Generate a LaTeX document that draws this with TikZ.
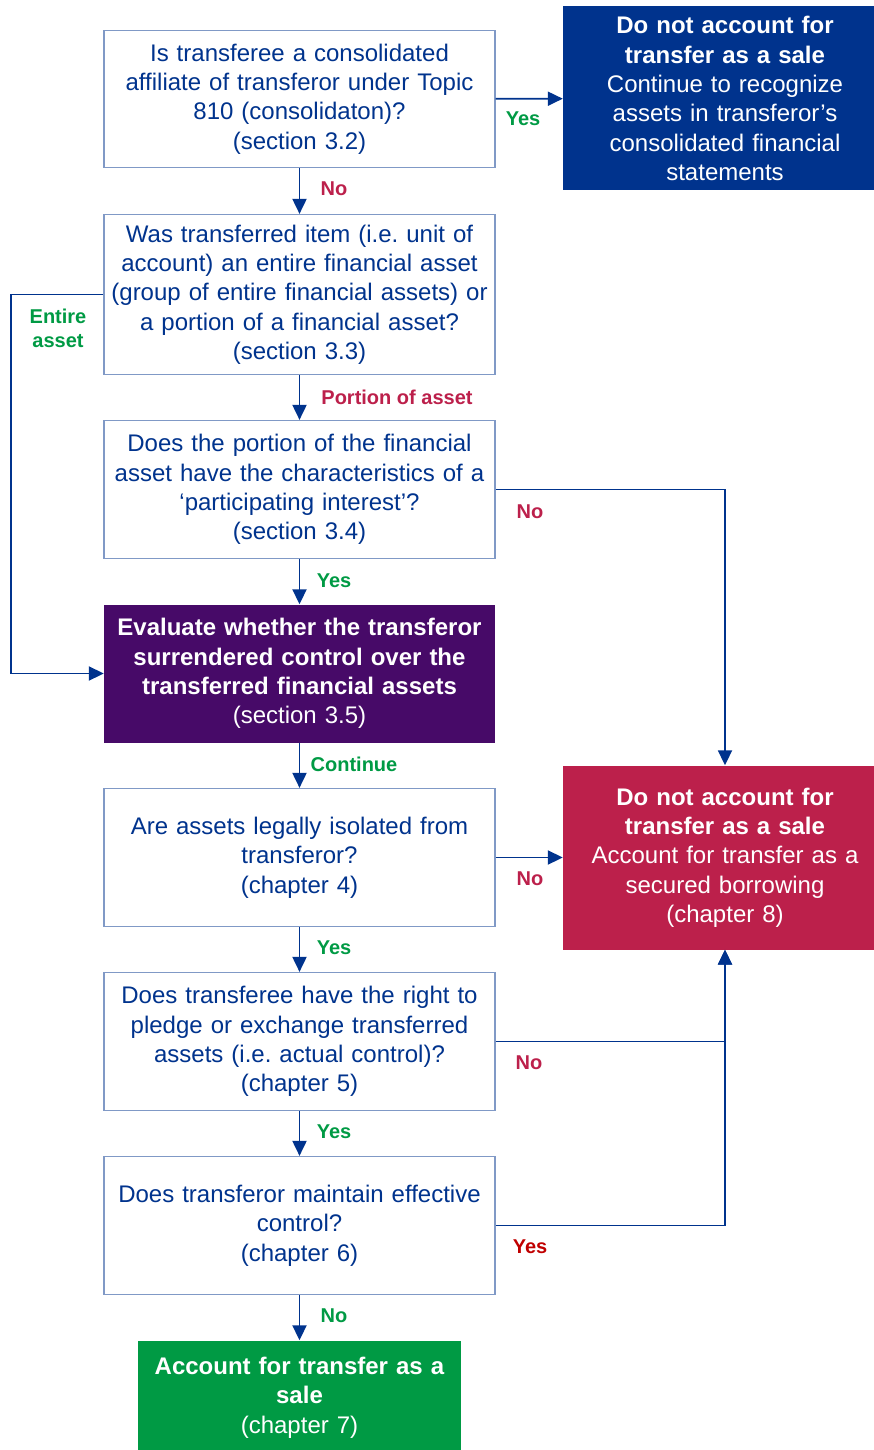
\documentclass[tikz,border=0pt]{standalone}
\usepackage{fontspec}
\setmainfont{Liberation Sans}
\usepackage{tikz}
\usetikzlibrary{arrows.meta}
\definecolor{kpmgblue}{HTML}{00338D}
\definecolor{kpmgpurple}{HTML}{470A68}
\definecolor{kpmgred}{HTML}{BC204B}
\definecolor{kpmggreen}{HTML}{009A44}
\definecolor{darkred}{HTML}{C00000}
\frenchspacing
\begin{document}
\begin{tikzpicture}[
    x=1pt, y=-1pt,
    qbox/.style={rectangle, draw=kpmgblue!50, line width=1.2pt, fill=white, text=kpmgblue, inner sep=0pt, text width=391pt, minimum height=138pt, align=center, font=\fontsize{24}{29.3}\selectfont},
    endbox/.style={rectangle, fill=#1, text=white, inner sep=0pt, align=center, font=\fontsize{24}{29.3}\selectfont},
    arrow/.style={-{Triangle[length=15pt,width=14pt]}, draw=kpmgblue, line width=1.9pt},
    lbl/.style={font=\fontsize{20}{24}\selectfont\bfseries, text=#1, inner sep=0pt, align=center}
]
\useasboundingbox (0,0) rectangle (874,1450);
% question boxes
\node[qbox, minimum height=137pt] (affil) at (299.5,99) {Is transferee a consolidated\\affiliate of transferor under Topic\\810 (consolidaton)?\\(section 3.2)};
\node[qbox, minimum height=160pt] (unit) at (299.5,294.5) {Was transferred item (i.e. unit of\\account) an entire financial asset\\(group of entire financial assets) or\\a portion of a financial asset?\\(section 3.3)};
\node[qbox] (partint) at (299.5,489.5) {Does the portion of the financial\\asset have the characteristics of a\\`participating interest'?\\(section 3.4)};
\node[endbox=kpmgpurple, text width=391pt, minimum height=138pt] (evalctl) at (299.5,673.5) {\textbf{Evaluate whether the transferor}\\\textbf{surrendered control over the}\\\textbf{transferred financial assets}\\(section 3.5)};
\node[qbox] (isol) at (299.5,857.5) {Are assets legally isolated from\\transferor?\\(chapter 4)};
\node[qbox] (pledge) at (299.5,1041.5) {Does transferee have the right to\\pledge or exchange transferred\\assets (i.e. actual control)?\\(chapter 5)};
\node[qbox] (effctl) at (299.5,1225.5) {Does transferor maintain effective\\control?\\(chapter 6)};
% outcome boxes
\node[endbox=kpmgblue, text width=324pt, minimum height=184pt] (consol) at (725,98.5) {\textbf{Do not account for}\\\textbf{transfer as a sale}\\Continue to recognize\\assets in transferor's\\consolidated financial\\statements};
\node[endbox=kpmgred, text width=324pt, minimum height=184pt] (borrow) at (725,857.5) {\textbf{Do not account for}\\\textbf{transfer as a sale}\\Account for transfer as a\\secured borrowing\\(chapter 8)};
\node[endbox=kpmggreen, text width=323pt, minimum height=114pt] (sale) at (299.5,1397.5) {\textbf{Account for transfer as a}\\\textbf{sale}\\(chapter 7)};
% connectors
\draw[arrow] (affil) -- (consol);\draw[arrow] (affil) -- (unit);
\draw[arrow] (unit.west) -- ++(-92,0) |- (evalctl.west);
\draw[arrow] (unit) -- (partint);\draw[arrow] (partint.east) -| (borrow.north);
\draw[arrow] (partint) -- (evalctl);\draw[arrow] (evalctl) -- (isol);
\draw[arrow] (isol) -- (borrow);\draw[arrow] (isol) -- (pledge);
\draw[arrow] (pledge.east) -| (borrow.south);\draw[arrow] (pledge) -- (effctl);
\draw[arrow] (effctl.east) -| (borrow.south);\draw[arrow] (effctl) -- (sale);
% labels
\node[lbl=kpmggreen] (l1) at (523,119) {Yes};\node[lbl=kpmgred] (l2) at (334,189) {No};
\node[lbl=kpmggreen] (l3) at (58,328) {Entire\\asset};\node[lbl=kpmgred] (l4) at (397,397) {Portion of asset};
\node[lbl=kpmgred] (l5) at (530,512) {No};\node[lbl=kpmggreen] (l6) at (334,581) {Yes};
\node[lbl=kpmggreen] (l7) at (354,764) {Continue};\node[lbl=kpmgred] (l8) at (530,879) {No};
\node[lbl=kpmggreen] (l9) at (334,948) {Yes};\node[lbl=kpmgred] (l10) at (529,1063) {No};
\node[lbl=kpmggreen] (l11) at (334,1132) {Yes};\node[lbl=darkred] (l12) at (530,1247) {Yes};
\node[lbl=kpmggreen] (l13) at (334,1316) {No};
\end{tikzpicture}
\end{document}
